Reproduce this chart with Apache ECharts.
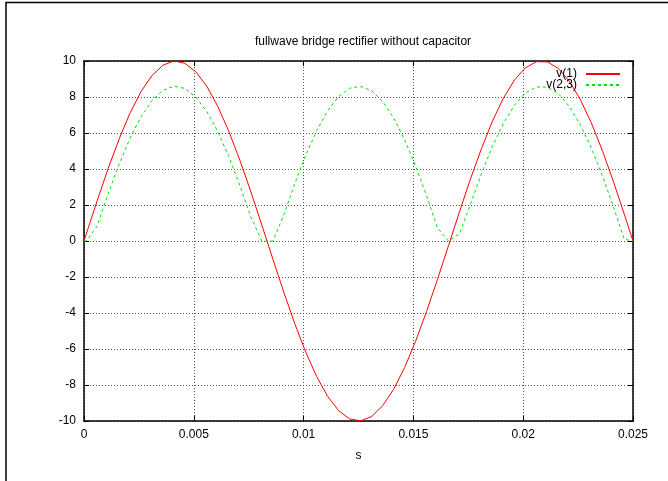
<!DOCTYPE html>
<html>
<head>
<meta charset="utf-8">
<script src="https://cdn.jsdelivr.net/npm/echarts@6/dist/echarts.min.js"></script>
<style>
  html, body { margin: 0; padding: 0; background: #fff; }
  #chart { width: 668px; height: 481px; }
</style>
</head>
<body>
<div id="chart"></div>
<script>
// sample times (s) and node voltages
const times = [0, 0.0001, 0.0006, 0.0011, 0.0016, 0.0021, 0.0026, 0.0031, 0.0036, 0.0041,
  0.0046, 0.0051, 0.0056, 0.0061, 0.0066, 0.0071, 0.0076, 0.0081, 0.0086, 0.0091,
  0.0096, 0.0101, 0.0106, 0.0111, 0.0116, 0.0121, 0.0126, 0.0131, 0.0136, 0.0141,
  0.0146, 0.0151, 0.0156, 0.0161, 0.0166, 0.0171, 0.0176, 0.0181, 0.0186, 0.0191,
  0.0196, 0.0201, 0.0206, 0.0211, 0.0216, 0.0221, 0.0226, 0.0231, 0.0236, 0.0241,
  0.0246, 0.025];

const v1 = [0, 0.38, 2.24, 4.03, 5.67, 7.12, 8.31, 9.2, 9.77, 10.0,
  9.87, 9.39, 8.58, 7.46, 6.08, 4.48, 2.73, 0.88, -1.0, -2.85,
  -4.6, -6.18, -7.54, -8.64, -9.43, -9.89, -9.99, -9.75, -9.15, -8.24,
  -7.03, -5.57, -3.91, -2.12, -0.25, 1.63, 3.45, 5.14, 6.66, 7.94,
  8.94, 9.62, 9.96, 9.95, 9.59, 8.88, 7.86, 6.57, 5.04, 3.33,
  1.5, 0];

const v23 = [0, 0, 0.84, 2.63, 4.27, 5.72, 6.91, 7.8, 8.37, 8.6,
  8.47, 7.99, 7.18, 6.06, 4.68, 3.08, 1.33, 0, 0, 1.45,
  3.2, 4.78, 6.14, 7.24, 8.03, 8.49, 8.59, 8.35, 7.75, 6.84,
  5.63, 4.17, 2.51, 0.72, 0, 0.4, 2.05, 3.74, 5.26, 6.54,
  7.54, 8.22, 8.56, 8.55, 8.19, 7.48, 6.46, 5.17, 3.64, 1.93,
  0.1, 0];

const xTicks = ['0', '0.005', '0.01', '0.015', '0.02', '0.025'];
const yTicks = [-10, -8, -6, -4, -2, 0, 2, 4, 6, 8, 10];

const chart = echarts.init(document.getElementById('chart'));

const font = 'Liberation Sans, Arial, sans-serif';
const pair = vals => times.map((t, i) => [t, vals[i]]);

const gridLine = { show: true, lineStyle: { color: '#555', type: [1, 2], width: 1 } };
const frameLine = { show: true, onZero: false, lineStyle: { color: '#000', width: 1.5 } };
const innerTick = { show: true, inside: true, length: 5, lineStyle: { color: '#000' } };

chart.setOption({
  animation: false,
  textStyle: { fontFamily: font },
  title: {
    text: 'fullwave bridge rectifier without capacitor',
    left: 358, top: 31, textAlign: 'center',
    textStyle: { fontSize: 12, fontWeight: 'normal', color: '#000', fontFamily: font }
  },
  legend: {
    orient: 'vertical', right: 42, top: 63, align: 'right',
    itemWidth: 34, itemHeight: 10, itemGap: -1,
    itemStyle: { opacity: 0 },
    textStyle: { fontSize: 12, color: '#000', fontFamily: font, padding: [0, 4, 0, 0] },
    data: ['v(1)', 'v(2,3)']
  },
  grid: { left: 84, right: 35, top: 61, bottom: 60, show: false },
  xAxis: [{
    type: 'value', min: 0, max: 0.025, interval: 0.005,
    name: 's', nameLocation: 'middle', nameGap: 29,
    nameTextStyle: { fontSize: 12, color: '#000', fontFamily: font },
    axisLine: frameLine,
    axisTick: innerTick,
    axisLabel: {
      color: '#000', fontSize: 12, margin: 8,
      formatter: v => xTicks[Math.round(v / 0.005)]
    },
    splitLine: gridLine
  }, {
    type: 'value', min: 0, max: 0.025, interval: 0.005, position: 'top',
    axisLine: frameLine,
    axisTick: innerTick,
    axisLabel: { show: false },
    splitLine: { show: false }
  }],
  yAxis: [{
    type: 'value', min: yTicks[0], max: yTicks[yTicks.length - 1], interval: 2,
    axisLine: frameLine,
    axisTick: innerTick,
    axisLabel: { color: '#000', fontSize: 12, margin: 8 },
    splitLine: gridLine
  }, {
    type: 'value', min: yTicks[0], max: yTicks[yTicks.length - 1], interval: 2, position: 'right',
    axisLine: frameLine,
    axisTick: innerTick,
    axisLabel: { show: false },
    splitLine: { show: false }
  }],
  graphic: [{
    type: 'polyline',
    shape: { points: [[6, 481], [6, 2.5], [668, 2.5]] },
    style: { stroke: '#000', lineWidth: 1.5, fill: null },
    silent: true
  }],
  series: [{
    name: 'v(1)', type: 'line', data: pair(v1),
    showSymbol: false, symbol: 'none', color: '#ff0000',
    lineStyle: { color: '#ff0000', width: 1 }
  }, {
    name: 'v(2,3)', type: 'line', data: pair(v23),
    showSymbol: false, symbol: 'none', color: '#00e000',
    lineStyle: { color: '#00e000', width: 1, type: [3, 3] }
  }]
});
</script>
</body>
</html>
